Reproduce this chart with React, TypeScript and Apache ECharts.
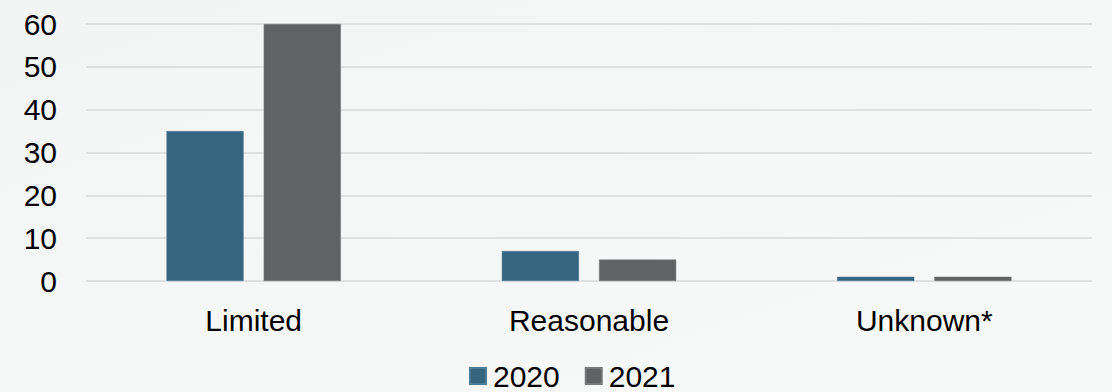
import React, { useEffect, useRef } from "react";
import * as echarts from "echarts";

const categories = ["Limited", "Reasonable", "Unknown*"];
const series2020 = [35, 7, 1];
const series2021 = [60, 5, 1];
const seriesNames = ["2020", "2021"];

export default function App() {
  const ref = useRef<HTMLDivElement>(null);
  useEffect(() => {
    if (!ref.current) return;
    const chart = echarts.init(ref.current, null, { renderer: "svg" });
    const font = "Liberation Sans, Arial, sans-serif";
    chart.setOption({
      animation: false,
      backgroundColor: {
        type: "linear",
        x: 0, y: 0, x2: 1, y2: 1,
        colorStops: [
          { offset: 0, color: "#f3f4f4" },
          { offset: 1, color: "#f8f9f9" },
        ],
      },
      grid: { left: 86, right: 20, top: 24, bottom: 111, containLabel: false },
      legend: {
        data: seriesNames,
        left: 469,
        top: 361,
        padding: 0,
        itemWidth: 16,
        itemHeight: 16,
        itemGap: 25,
        icon: "rect",
        textStyle: { fontFamily: font, fontSize: 30, lineHeight: 30, color: "#000", padding: [0, 0, 0, 2] },
      },
      xAxis: {
        type: "category",
        data: categories,
        axisLine: { show: false },
        axisTick: { show: false },
        axisLabel: { fontFamily: font, fontSize: 30, color: "#000", margin: 24 },
      },
      yAxis: {
        type: "value",
        min: 0,
        max: 60,
        interval: 10,
        axisLine: { show: false },
        axisTick: { show: false },
        axisLabel: { fontFamily: font, fontSize: 30, color: "#000", margin: 29 },
        splitLine: { lineStyle: { color: "#d9d9d9", width: 1.5 } },
      },
      series: [
        {
          name: seriesNames[0],
          type: "bar",
          data: series2020,
          barGap: "26%",
          barCategoryGap: "48%",
          itemStyle: { color: "#36657f", borderColor: "#4d7a92", borderWidth: 0.5 },
        },
        {
          name: seriesNames[1],
          type: "bar",
          data: series2021,
          itemStyle: { color: "#616263", borderColor: "#777", borderWidth: 0.5 },
        },
      ],
    });
    return () => chart.dispose();
  }, []);
  return (
    <div
      ref={ref}
      style={{ position: "fixed", left: 0, top: 0, width: 1112, height: 392 }}
    />
  );
}
